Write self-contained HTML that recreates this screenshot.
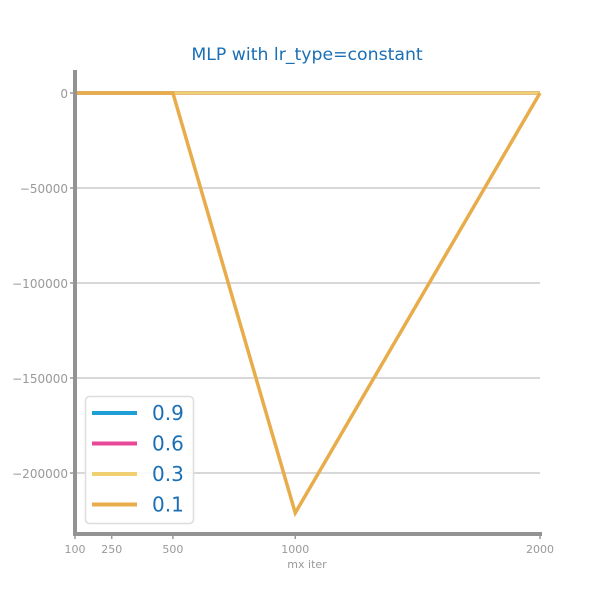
<!DOCTYPE html>
<html><head><meta charset="utf-8"><style>
body{margin:0;background:#fff;width:600px;height:600px;overflow:hidden}
svg text{font-family:"DejaVu Sans","Liberation Sans",sans-serif}
</style></head><body>
<svg id="chart" width="600" height="600"></svg>
<script>
const xValues=[100,250,500,1000,2000];
const seriesNames=["0.9","0.6","0.3","0.1"];
const seriesColors=["#1f9fd8","#e8489a","#f0d070","#e8ad4a"];
const s09=[0,0,0,0,0];
const s06=[0,0,0,0,0];
const s03=[0,0,0,0,0];
const s01=[0,0,0,-221000,0];
const yTicks=[0,-50000,-100000,-150000,-200000];
const yTickLabels=["0","\u221250000","\u2212100000","\u2212150000","\u2212200000"];
const xTicks=[100,250,500,1000,2000];
const series=[s09,s06,s03,s01];
const NS="http://www.w3.org/2000/svg";
const svg=document.getElementById('chart');
const X0=75,X1=540,Y0=93,Y1=534,YMIN=-232100;
const sx=v=>X0+(v-100)/(2000-100)*(X1-X0);
const sy=v=>Y0+(0-v)/(0-YMIN)*(Y1-Y0);
function mk(t,a,txt){const e=document.createElementNS(NS,t);for(const k in a)e.setAttribute(k,a[k]);if(txt!==undefined)e.textContent=txt;svg.appendChild(e);return e;}
let e=mk('text',{x:307,y:60,'text-anchor':'middle','font-size':17.3,fill:'#1a6fb5'},'MLP with lr_type=constant');

yTicks.forEach((v,i)=>{
 let g=mk('line',{x1:X0,x2:X1,y1:sy(v),y2:sy(v),stroke:'#cccccc','stroke-width':1.5});
 
 let t=mk('line',{x1:X0-5,x2:X0,y1:sy(v),y2:sy(v),stroke:'#999','stroke-width':1.5});
 
 let l=mk('text',{x:68,y:sy(v)+5,'text-anchor':'end','font-size':12,fill:'#999'},yTickLabels[i]);
 
});
xTicks.forEach(v=>{
 let t=mk('line',{x1:sx(v),x2:sx(v),y1:Y1,y2:Y1+5,stroke:'#999','stroke-width':1.5});
 
 let l=mk('text',{x:sx(v),y:553,'text-anchor':'middle','font-size':11,fill:'#999'},String(v));
 
});
e=mk('text',{x:307,y:568,'text-anchor':'middle','font-size':11,fill:'#999'},'mx iter');

series.forEach((s,i)=>{
 let p=mk('polyline',{points:s.map((v,j)=>sx(xValues[j])+','+sy(v)).join(' '),fill:'none',stroke:seriesColors[i],'stroke-width':3.5,'stroke-linejoin':'miter'});
 
});
e=mk('line',{x1:X0,x2:X0,y1:70,y2:Y1+2,stroke:'#939393','stroke-width':4});

e=mk('line',{x1:X0-2,x2:X1+2,y1:Y1,y2:Y1,stroke:'#939393','stroke-width':4});

e=mk('rect',{x:85.5,y:396.5,width:108,height:127,rx:4,fill:'#fff','fill-opacity':0.85,stroke:'#ddd','stroke-width':1.5});

seriesNames.forEach((n,i)=>{
 const y=413+i*30.5;
 let l=mk('line',{x1:92,x2:137,y1:y,y2:y,stroke:seriesColors[i],'stroke-width':4});
 
 let t=mk('text',{x:152,y:y+7,'font-size':20,fill:'#1a6fb5'},n);
 
});
</script>
</body></html>
